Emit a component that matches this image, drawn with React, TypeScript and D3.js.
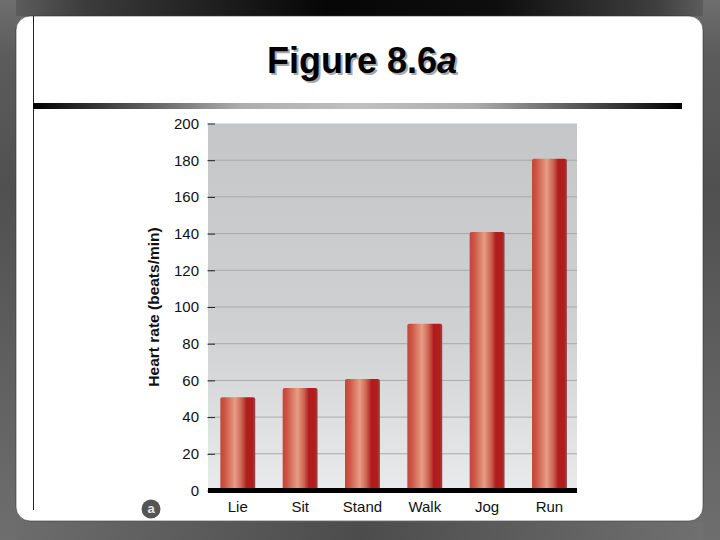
import { useEffect, useRef } from 'react';
import * as d3 from 'd3';

const activities = ['Lie', 'Sit', 'Stand', 'Walk', 'Jog', 'Run'];
const heartRates = [50, 55, 60, 90, 140, 180];
const yTicks = [0, 20, 40, 60, 80, 100, 120, 140, 160, 180, 200];

const FONT = '"Liberation Sans", Arial, sans-serif';

const App = () => {
  const ref = useRef<SVGSVGElement | null>(null);

  useEffect(() => {
    const svg = d3.select(ref.current);
    svg.selectAll('*').remove();

    const plot = { left: 208, right: 577, top: 123.5, bottom: 490.5 };

    const x = d3
      .scaleBand<string>()
      .domain(activities)
      .range([plot.left, plot.right])
      .paddingInner(0.44)
      .paddingOuter(0.18)
      .align(0.55);

    const y = d3
      .scaleLinear()
      .domain([0, 200])
      .range([plot.bottom, plot.top]);

    const defs = svg.append('defs');

    const addGradient = (
      id: string,
      stops: [number, string][],
      vertical = false,
    ) => {
      const g = defs
        .append('linearGradient')
        .attr('id', id)
        .attr('x1', 0)
        .attr('y1', 0)
        .attr('x2', vertical ? 0 : 1)
        .attr('y2', vertical ? 1 : 0);
      stops.forEach(([o, c]) =>
        g.append('stop').attr('offset', o).attr('stop-color', c),
      );
    };

    addGradient('frameTop', [
      [0, '#5c5c5c'],
      [0.1, '#3c3c3c'],
      [0.45, '#060606'],
      [0.7, '#0e0e0e'],
      [0.93, '#3e3e3e'],
      [1, '#5c5c5c'],
    ]);
    addGradient('frameBottom', [
      [0, '#6c6c6c'],
      [0.5, '#4c4c4c'],
      [1, '#707070'],
    ]);
    addGradient('frameSide', [
      [0, '#6e6e6e'],
      [0.1, '#5c5c5c'],
      [0.35, '#505050'],
      [1, '#6e6e6e'],
    ], true);
    addGradient('rule', [
      [0, '#000000'],
      [0.32, '#adadad'],
      [0.5, '#c0c0c0'],
      [0.68, '#adadad'],
      [1, '#000000'],
    ]);
    addGradient('plotBg', [
      [0, '#c5c6c8'],
      [0.55, '#cfd0d2'],
      [1, '#e9eaec'],
    ], true);
    addGradient('bar', [
      [0, '#c4463a'],
      [0.12, '#cb5444'],
      [0.42, '#e89c84'],
      [0.62, '#c9604e'],
      [0.75, '#b01f1f'],
      [0.92, '#b31e1e'],
      [1, '#8f4a4a'],
    ]);

    defs
      .append('filter')
      .attr('id', 'soft')
      .append('feGaussianBlur')
      .attr('stdDeviation', 0.5);

    // dark frame and white slide panel
    svg.append('rect').attr('width', 720).attr('height', 540).attr('fill', 'url(#frameSide)');
    svg.append('rect').attr('x', 16).attr('width', 687).attr('height', 16).attr('fill', 'url(#frameTop)');
    svg.append('rect').attr('x', 16).attr('y', 522).attr('width', 687).attr('height', 18).attr('fill', 'url(#frameBottom)');
    svg
      .append('rect')
      .attr('x', 16)
      .attr('y', 16)
      .attr('width', 687)
      .attr('height', 505)
      .attr('rx', 14)
      .attr('fill', '#ffffff')
      .attr('stroke', '#333333')
      .attr('stroke-width', 0.6);

    svg
      .append('line')
      .attr('x1', 33.5)
      .attr('x2', 33.5)
      .attr('y1', 16)
      .attr('y2', 510)
      .attr('stroke', '#222222')
      .attr('stroke-width', 1);

    svg
      .append('rect')
      .attr('x', 33)
      .attr('y', 103)
      .attr('width', 649)
      .attr('height', 6)
      .attr('fill', 'url(#rule)');

    // title with its grey drop shadow
    const title = svg
      .append('text')
      .attr('x', 267)
      .attr('y', 73)
      .attr('font-family', FONT)
      .attr('font-size', 36)
      .attr('font-weight', 700)
      .attr('fill', '#000000')
      .style('text-shadow', '2px 2px 0 #a8a8a8');
    title.append('tspan').text('Figure 8.6');
    title.append('tspan').attr('font-style', 'italic').text('a');

    // plot area
    svg
      .append('rect')
      .attr('x', plot.left)
      .attr('y', plot.top)
      .attr('width', plot.right - plot.left)
      .attr('height', plot.bottom - plot.top)
      .attr('fill', 'url(#plotBg)');

    svg
      .append('g')
      .selectAll('line')
      .data(yTicks.filter(d => d > 0 && d < 200))
      .join('line')
      .attr('x1', plot.left)
      .attr('x2', plot.right)
      .attr('y1', d => y(d))
      .attr('y2', d => y(d))
      .attr('stroke', '#a8a9ab')
      .attr('stroke-width', 1);

    svg
      .append('g')
      .attr('filter', 'url(#soft)')
      .selectAll('rect')
      .data(heartRates)
      .join('rect')
      .attr('x', (_, i) => x(activities[i])!)
      .attr('y', d => y(d) - 1.5)
      .attr('width', x.bandwidth())
      .attr('height', d => plot.bottom - y(d) + 1.5)
      .attr('rx', 2)
      .attr('fill', 'url(#bar)');

    // y axis
    const yAxis = svg
      .append('g')
      .attr('transform', `translate(${plot.left},0)`)
      .call(
        d3
          .axisLeft(y)
          .tickValues(yTicks)
          .tickSize(0)
          .tickPadding(9),
      );
    yAxis.select('.domain').remove();
    yAxis
      .selectAll('.tick text')
      .attr('font-family', FONT)
      .attr('font-size', 15)
      .attr('fill', '#111111');
    yAxis
      .selectAll('.tick line')
      .attr('x1', -0.5)
      .attr('x2', 7)
      .attr('stroke', '#222222')
      .attr('stroke-width', 1);

    // thick baseline
    svg
      .append('rect')
      .attr('x', plot.left)
      .attr('y', plot.bottom - 2.5)
      .attr('width', plot.right - plot.left)
      .attr('height', 5)
      .attr('fill', '#000000');

    // x axis
    const xAxis = svg
      .append('g')
      .attr('transform', `translate(0,${plot.bottom})`)
      .call(d3.axisBottom(x).tickSize(0).tickPadding(11));
    xAxis.select('.domain').remove();
    xAxis
      .selectAll('.tick text')
      .attr('font-family', FONT)
      .attr('font-size', 15)
      .attr('fill', '#111111');

    // y axis title
    svg
      .append('text')
      .attr('transform', 'translate(159,307) rotate(-90)')
      .attr('text-anchor', 'middle')
      .attr('font-family', FONT)
      .attr('font-size', 15.5)
      .attr('font-weight', 700)
      .attr('fill', '#111111')
      .text('Heart rate (beats/min)');

    // panel letter badge
    svg
      .append('circle')
      .attr('cx', 151)
      .attr('cy', 509)
      .attr('r', 9.5)
      .attr('fill', '#555555');
    svg
      .append('text')
      .attr('x', 151)
      .attr('y', 513)
      .attr('text-anchor', 'middle')
      .attr('font-family', FONT)
      .attr('font-size', 13)
      .attr('font-weight', 700)
      .attr('fill', '#e8e8e8')
      .text('a');
  }, []);

  return (
    <svg
      ref={ref}
      width={720}
      height={540}
      style={{ position: 'absolute', left: 0, top: 0, display: 'block' }}
    ></svg>
  );
};

export default App;
